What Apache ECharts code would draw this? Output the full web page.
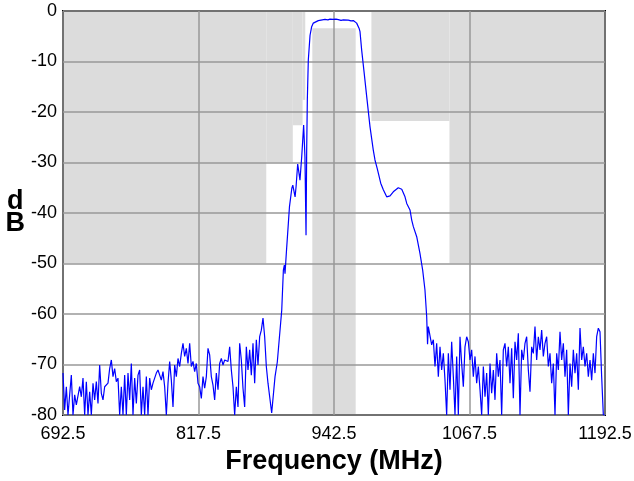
<!DOCTYPE html>
<html>
<head>
<meta charset="utf-8">
<title>Filter response</title>
<script src="https://cdn.jsdelivr.net/npm/echarts@6/dist/echarts.min.js"></script>
<style>
html, body { margin: 0; padding: 0; background: #fff; }
#main { width: 634px; height: 481px; }
</style>
</head>
<body>
<div id="main"></div>
<script>
/// axis ticks
var freqTicks = [692.5, 817.5, 942.5, 1067.5, 1192.5];
var dbTicks = [0, -10, -20, -30, -40, -50, -60, -70, -80];

/// mask (gray) blocks: start / end frequency, top / bottom level
var maskStart  = [692.5, 880, 904.5, 913.5, 922.5, 977, 1049];
var maskEnd    = [880, 904.5, 913.5, 916, 962.5, 1049, 1192.5];
var maskTop    = [0, 0, 0, 0, -3.4, 0, 0];
var maskBottom = [-50, -30, -22.6, -17.6, -80, -21.8, -50];

/// lower stopband noise, sampled on a regular grid
var lowNoiseStart = 692.5;
var highNoiseStart = 1032.6;
var noiseStep = 1.5375;
var lowNoise = [
	-71.7, -79.0, -74.4, -80, -76.0, -72.1, -80, -76.0, -78.0, -77.7,
	-74.4, -76.4, -72.7, -80, -73.4, -80, -75.4, -80, -73.7, -77.0,
	-73.4, -77.7, -70.1, -75.7, -77.0, -74.4, -74.4, -73.7, -70.8, -69.1,
	-72.4, -70.8, -73.4, -72.7, -80, -74.4, -80, -72.1, -80, -71.7,
	-77.0, -69.8, -80, -72.7, -77.7, -72.1, -71.1, -80, -74.4, -80,
	-72.4, -80, -72.7, -75.0, -73.7, -73.4, -71.7, -71.1,
	-71.1, -73.1, -71.4, -74.4, -80, -73.7, -69.4, -73.1, -78.4, -70.1,
	-72.4, -68.8, -70.4, -67.8, -65.8, -68.4, -66.8, -69.8, -65.8, -70.4,
	-69.4, -71.4, -69.8, -73.7, -74.4, -76.7, -72.4, -74.7, -72.4, -66.8,
	-68.1, -72.4, -74.1, -77.0, -71.7, -75.0, -69.8, -68.8, -70.1, -69.1,
	-68.8, -69.4, -66.5, -71.1, -74.4, -80, -74.4, -78.4, -65.8, -69.1,
	-74.7, -78.4, -66.5, -71.1, -67.1, -72.1, -65.8, -73.7, -65.1, -70.1,
	-64.5, -63.2, -60.8, -64.5, -70.4, -73.7
];

/// transition band + passband, read point by point
var edgeFreq = [
	885.0, 888.1, 890.2, 892.0, 894.3, 895.8, 896.7, 897.3, 898.9, 900.4,
	901.4, 903.6, 904.5, 906.6, 907.5, 909.0, 910.2, 911.1, 912.7, 914.5,
	915.7, 916.7, 917.3, 917.9, 918.8, 920.4, 921.9, 923.4, 924.9, 928.0,
	929.6, 934.2, 936.9, 938.8, 941.8, 944.3, 946.5, 949.0, 951.1, 955.7,
	958.2, 960.3, 963.4, 965.6, 966.5, 968.0, 970.2, 972.7, 975.7, 978.7,
	980.3, 982.4, 983.4, 985.6, 988.0, 991.1, 994.2, 997.2, 1001.8, 1005.0,
	1008.0, 1009.6, 1012.6, 1014.2, 1015.7, 1018.8, 1021.8, 1024.3, 1026.4, 1028.0,
	1028.8, 1029.5, 1031.1
];
var edgeDb = [
	-79.6, -72.4, -69.5, -69.8, -59.2, -51.3, -50.3, -52.0, -46.7, -42.0,
	-38.8, -35.1, -34.5, -36.8, -34.8, -30.3, -32.1, -33.5, -28.9, -22.6,
	-28.9, -44.4, -27.5, -17.6, -9.7, -4.8, -3.1, -2.4, -2.1, -1.9,
	-1.8, -1.65, -1.75, -1.6, -1.65, -1.6, -1.7, -1.85, -1.75, -1.8,
	-1.95, -1.9, -2.4, -3.4, -4.1, -7.7, -12.0, -17.0, -22.9, -27.5,
	-29.5, -31.2, -32.1, -34.1, -35.4, -36.8, -36.6, -35.8, -35.0, -35.3,
	-36.8, -38.1, -39.4, -41.4, -42.7, -44.7, -48.0, -51.3, -55.2, -60.5,
	-66.0, -62.5, -62.2
];

/// upper stopband noise
var highNoise = [
	-66.1, -65.1, -70.4, -65.8, -72.4, -66.5, -71.1, -67.8, -73.1, -80,
	-67.8, -75.0, -65.5, -72.4, -80, -68.4, -80, -64.5, -69.8, -74.4,
	-66.5, -64.5, -65.5, -69.1, -67.1, -72.4, -68.4, -73.7, -70.4, -75.0,
	-80, -70.4, -76.4, -71.7, -80, -69.8, -75.7, -71.1, -77.0, -67.8,
	-72.4, -69.1, -80, -67.1, -65.8, -70.4, -66.5, -73.7, -66.8, -76.7,
	-65.5, -69.1, -63.8, -80,
	-67.1, -69.1, -65.8, -64.5, -71.1, -75.4, -66.5, -67.8, -62.5, -69.1,
	-64.5, -67.1, -63.2, -68.4, -65.8, -64.5, -70.4, -67.8, -73.7, -69.8,
	-80, -67.8, -71.1, -63.5, -69.1, -65.8, -72.4, -67.1, -80, -69.8,
	-74.4, -67.1, -71.7, -67.8, -75.0, -62.8, -69.1, -66.5, -70.4, -67.8,
	-72.4, -69.1, -73.1, -67.8, -71.7, -64.5, -62.8, -63.5, -72.4, -80,
	-80
];

var FONT = 'Liberation Sans, Arial, Helvetica, sans-serif';

function buildTrace(){
	var pts = [];
	for (var i = 0; i < lowNoise.length; i++) {
		pts.push([lowNoiseStart + i * noiseStep, lowNoise[i]]);
	}
	for (var j = 0; j < edgeFreq.length; j++) {
		pts.push([edgeFreq[j], edgeDb[j]]);
	}
	for (var k = 0; k < highNoise.length; k++) {
		pts.push([Math.min(highNoiseStart + k * noiseStep, 1192.5), highNoise[k]]);
	}
	return pts;
}

function buildMask(){
	var rows = [];
	for (var i = 0; i < maskStart.length; i++) {
		rows.push([maskStart[i], maskEnd[i], maskTop[i], maskBottom[i]]);
	}
	return rows;
}

var myChart = echarts.init(document.getElementById('main'), null, {renderer: 'canvas'});
var option = {
	animation: false,
	backgroundColor: '#fff',
	grid: {
		left: 63, right: 29, top: 11, bottom: 66,
		outerBoundsMode: 'none',
		containLabel: false,
		show: true,
		borderColor: '#000',
		borderWidth: 2,
		backgroundColor: 'transparent'
	},
	xAxis: {
		type: 'value',
		min: freqTicks[0],
		max: freqTicks[freqTicks.length - 1],
		interval: 125,
		name: 'Frequency (MHz)',
		nameLocation: 'middle',
		nameGap: 32,
		nameTextStyle: {fontFamily: FONT, fontSize: 27, fontWeight: 'bold', color: '#000'},
		axisLine: {show: false},
		axisTick: {show: false},
		axisLabel: {
			fontFamily: FONT, fontSize: 18, color: '#000', margin: 10,
			formatter: function (v) { return v.toFixed(1); }
		},
		splitLine: {show: true, lineStyle: {color: '#999', width: 1.5}}
	},
	yAxis: {
		type: 'value',
		min: dbTicks[dbTicks.length - 1],
		max: dbTicks[0],
		interval: 10,
		name: 'd\nB',
		nameLocation: 'middle',
		nameRotate: 0,
		nameGap: 47,
		nameTextStyle: {fontFamily: FONT, fontSize: 27, fontWeight: 'bold', color: '#000', lineHeight: 22, align: 'center', padding: [10, 0, 0, 0]},
		axisLine: {show: false},
		axisTick: {show: false},
		axisLabel: {fontFamily: FONT, fontSize: 18, color: '#000', margin: 6},
		splitLine: {show: true, lineStyle: {color: '#999', width: 1.5}}
	},
	series: [
		{
			// gray mask blocks, under the grid lines
			type: 'custom',
			z: -1,
			silent: true,
			data: buildMask(),
			renderItem: function (params, api) {
				var p0 = api.coord([api.value(0), api.value(2)]);
				var p1 = api.coord([api.value(1), api.value(3)]);
				return {
					type: 'rect',
					shape: {x: p0[0], y: p0[1], width: p1[0] - p0[0], height: p1[1] - p0[1]},
					style: {fill: '#dcdcdc'}
				};
			}
		},
		{
			type: 'line',
			data: buildTrace(),
			showSymbol: false,
			lineStyle: {color: '#0000ff', width: 1.2},
			z: 3
		}
	]
};
myChart.setOption(option);
</script>
</body>
</html>
